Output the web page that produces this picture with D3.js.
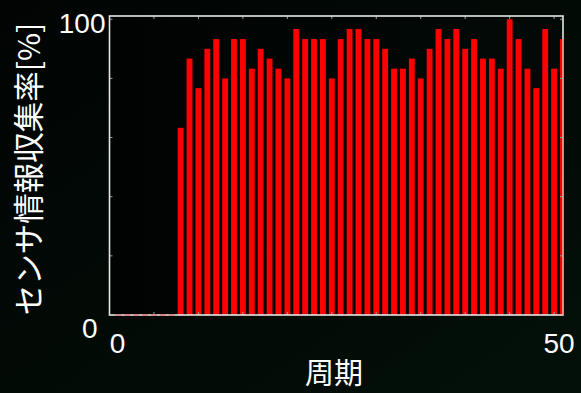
<!DOCTYPE html>
<html>
<head>
<meta charset="utf-8">
<script src="https://cdn.jsdelivr.net/npm/d3@7"></script>
<style>
  html, body { margin: 0; padding: 0; background: #020b07; }
  svg { display: block; }
</style>
</head>
<body>
<svg id="chart" width="581" height="393"></svg>
<script>
// ---- data ----
const periods = d3.range(1, 52);
const rates = [
  0, 0, 0, 0, 0, 0, 0,
  63.3, 86.7, 76.7, 90, 93.3, 80, 93.3, 93.3, 83.3, 90,
  86.7, 83.3, 80, 96.7, 93.3, 93.3, 93.3, 80, 93.3, 96.7,
  96.7, 93.3, 93.3, 90, 83.3, 83.3, 86.7, 80, 90, 96.7,
  93.3, 96.7, 90, 93.3, 86.7, 86.7, 83.3, 100, 93.3, 83.3,
  76.7, 96.7, 83.3, 93.3
];
const xTickValues = [5, 10, 15, 20, 25, 30, 35, 40, 45, 50];
const yTickValues = [20, 40, 60, 80, 100];
const xTickLabels = ["0", "50"];
const yTickLabels = ["0", "100"];
const xTitle = "周期";
const yTitle = "センサ情報収集率[%]";

// ---- layout ----
const svg = d3.select("#chart");
const W = 581, H = 393;
const L = 109.5, R = 563, T = 16, B = 315;

const defs = svg.append("defs");
const grad = defs.append("linearGradient").attr("id", "bg").attr("x1", 0).attr("x2", 1).attr("y1", 0).attr("y2", 1);
grad.append("stop").attr("offset", "0%").attr("stop-color", "#010403");
grad.append("stop").attr("offset", "100%").attr("stop-color", "#031009");
svg.append("rect").attr("width", W).attr("height", H).attr("fill", "url(#bg)");

const x = d3.scaleLinear().domain([0, 51]).range([L, R]);
const y = d3.scaleLinear().domain([0, 101.1]).range([B, T]);

defs.append("clipPath").attr("id", "clip")
  .append("rect").attr("x", L).attr("y", T).attr("width", R - L).attr("height", B - T);

// plot background
const pg = defs.append("linearGradient").attr("id", "pbg").attr("x1", 0).attr("x2", 1);
pg.append("stop").attr("offset", "0%").attr("stop-color", "#010302");
pg.append("stop").attr("offset", "100%").attr("stop-color", "#020a07");
svg.append("rect").attr("x", L).attr("y", T).attr("width", R - L).attr("height", B - T).attr("fill", "url(#pbg)");

const barW = x(0.66) - x(0);
const data = periods.map((p, i) => ({ p, v: rates[i] }));

// bars
const g = svg.append("g").attr("clip-path", "url(#clip)");
g.selectAll("rect.bar").data(data.filter(d => d.v > 0)).join("rect")
  .attr("class", "bar")
  .attr("x", d => x(d.p) - barW / 2)
  .attr("y", d => y(d.v))
  .attr("width", barW)
  .attr("height", d => y(0) - y(d.v))
  .attr("fill", "#ff0000");

// ticks (inward)
const tickColor = "#9a9a9a";
const tk = svg.append("g").attr("stroke", tickColor).attr("stroke-width", 1);
xTickValues.forEach(v => {
  tk.append("line").attr("x1", x(v)).attr("x2", x(v)).attr("y1", B).attr("y2", B - 3);
  tk.append("line").attr("x1", x(v)).attr("x2", x(v)).attr("y1", T).attr("y2", T + 3);
});
yTickValues.forEach(v => {
  tk.append("line").attr("x1", L).attr("x2", L + 3).attr("y1", y(v)).attr("y2", y(v));
  tk.append("line").attr("x1", R).attr("x2", R - 3).attr("y1", y(v)).attr("y2", y(v));
});

// frame
svg.append("rect").attr("x", L).attr("y", T).attr("width", R - L).attr("height", B - T)
  .attr("fill", "none").attr("stroke", "#e6e6e6").attr("stroke-width", 1.6);

// zero-height bars drawn on the axis line
svg.append("g").selectAll("line.zero").data(data.filter(d => d.v === 0)).join("line")
  .attr("class", "zero")
  .attr("x1", d => x(d.p) - barW / 2).attr("x2", d => x(d.p) + barW / 2)
  .attr("y1", y(0)).attr("y2", y(0))
  .attr("stroke", "#ff4040").attr("stroke-opacity", 0.55).attr("stroke-width", 1.6);
// the clipped last bar tints the right border
const last = data[data.length - 1];
svg.append("line").attr("x1", R).attr("x2", R).attr("y1", y(last.v)).attr("y2", B)
  .attr("stroke", "#ff5050").attr("stroke-opacity", 0.6).attr("stroke-width", 1.6);

// tick labels
const numFont = "'Liberation Sans', Arial, sans-serif";
svg.append("text").text(yTickLabels[1]).attr("x", L - 4).attr("y", y(100) + 14)
  .attr("text-anchor", "end").attr("font-family", numFont).attr("font-size", 28).attr("fill", "#fff");
svg.append("text").text(yTickLabels[0]).attr("x", L - 12).attr("y", y(0) + 23)
  .attr("text-anchor", "end").attr("font-family", numFont).attr("font-size", 28).attr("fill", "#fff");
svg.append("text").text(xTickLabels[0]).attr("x", x(0) + 8).attr("y", B + 38)
  .attr("text-anchor", "middle").attr("font-family", numFont).attr("font-size", 28).attr("fill", "#fff");
svg.append("text").text(xTickLabels[1]).attr("x", x(50) + 5).attr("y", B + 38)
  .attr("text-anchor", "middle").attr("font-family", numFont).attr("font-size", 28).attr("fill", "#fff");

// axis titles
const cjk = "'Noto Sans CJK JP', 'Noto Sans', sans-serif";
svg.append("text").text(xTitle).attr("x", 334).attr("y", 384)
  .attr("text-anchor", "middle").attr("font-family", cjk).attr("font-size", 29).attr("fill", "#fff");
svg.append("text").text(yTitle)
  .attr("transform", "translate(40,169) rotate(-90)")
  .attr("text-anchor", "middle").attr("font-family", cjk).attr("font-size", 30.5).attr("fill", "#fff");
</script>
</body>
</html>
